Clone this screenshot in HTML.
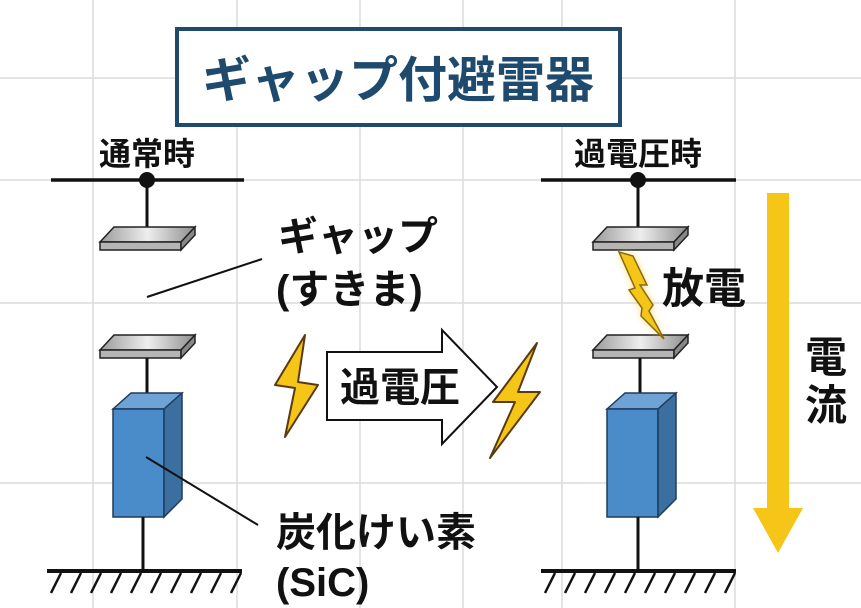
<!DOCTYPE html>
<html><head><meta charset="utf-8"><style>
body{margin:0;background:#fff}
svg{display:block}
text{font-family:"Liberation Sans","Noto Sans CJK JP",sans-serif;}
</style></head><body>
<svg width="861" height="608" viewBox="0 0 861 608" xmlns="http://www.w3.org/2000/svg">
<defs>
<linearGradient id="pl" x1="0" y1="0" x2="1" y2="0"><stop offset="0" stop-color="#9a9a9a"/><stop offset="0.5" stop-color="#eeeeee"/><stop offset="1" stop-color="#8e8e8e"/></linearGradient>
<filter id="glow"><feGaussianBlur stdDeviation="4"/></filter>
<g id="plate">
<polygon points="0,15 14,0 95,0 81,15" fill="url(#pl)" stroke="#222" stroke-width="1.5"/>
<polygon points="0,15 81,15 81,23 0,23" fill="#b5b5b5" stroke="#222" stroke-width="1.5"/>
<polygon points="81,15 95,0 95,8 81,23" fill="#888" stroke="#222" stroke-width="1.5"/>
</g>
<g id="sic">
<polygon points="0,16 18,0 69,0 51,16" fill="#6fa3d6" stroke="#1f3c5c" stroke-width="1.5"/>
<rect x="0" y="16" width="51" height="108" fill="#4a8bc9" stroke="#1f3c5c" stroke-width="1.5"/>
<polygon points="51,16 69,0 69,106 51,124" fill="#3b6f9f" stroke="#1f3c5c" stroke-width="1.5"/>
</g>
<g id="ground">
<line x1="0" y1="0" x2="195" y2="0" stroke="#111" stroke-width="4"/>
<path d="M14,2 l-10,20 M34,2 l-10,20 M54,2 l-10,20 M74,2 l-10,20 M94,2 l-10,20 M114,2 l-10,20 M134,2 l-10,20 M154,2 l-10,20 M174,2 l-10,20 M194,2 l-10,20" stroke="#111" stroke-width="2.5"/>
</g>
</defs>
<g stroke="#dcdcdc" stroke-width="1.5">
<line x1="93" y1="0" x2="93" y2="608"/><line x1="237" y1="0" x2="237" y2="608"/><line x1="360" y1="0" x2="360" y2="608"/><line x1="463" y1="0" x2="463" y2="608"/><line x1="562" y1="0" x2="562" y2="608"/><line x1="735" y1="0" x2="735" y2="608"/>
<line x1="0" y1="78" x2="861" y2="78"/><line x1="0" y1="180" x2="861" y2="180"/><line x1="0" y1="303" x2="861" y2="303"/><line x1="0" y1="483" x2="861" y2="483"/>
</g>
<rect x="177" y="29" width="443" height="96" fill="#fff" stroke="#1e4a6e" stroke-width="4"/>
<text x="398" y="97" font-size="49" font-weight="bold" fill="#1e4a6e" text-anchor="middle">ギャップ付避雷器</text>

<!-- left -->
<text x="147" y="165" font-size="32" font-weight="bold" fill="#111" text-anchor="middle">通常時</text>
<line x1="51" y1="180" x2="244" y2="180" stroke="#111" stroke-width="3.5"/>
<circle cx="147" cy="180" r="8" fill="#111"/>
<line x1="147" y1="180" x2="147" y2="228" stroke="#111" stroke-width="3"/>
<use href="#plate" x="100" y="227"/>
<use href="#plate" x="100" y="335"/>
<line x1="147" y1="358" x2="147" y2="400" stroke="#111" stroke-width="3"/>
<use href="#sic" x="113" y="393"/>
<line x1="143" y1="517" x2="143" y2="571" stroke="#111" stroke-width="3"/>
<use href="#ground" x="47" y="571"/>
<line x1="147" y1="297" x2="262" y2="259" stroke="#111" stroke-width="2"/>
<line x1="146" y1="457" x2="258" y2="525" stroke="#111" stroke-width="2"/>
<text x="278" y="250" font-size="40" font-weight="bold" fill="#111">ギャップ</text>
<text x="276" y="303" font-size="40" font-weight="bold" fill="#111">(すきま)</text>
<text x="276" y="546" font-size="40" font-weight="bold" fill="#111">炭化けい素</text>
<text x="276" y="596" font-size="40" font-weight="bold" fill="#111">(SiC)</text>

<!-- middle arrow -->
<polygon points="327,352 442,352 442,330 497,387 442,444 442,420 327,420" fill="#fff" stroke="#111" stroke-width="2"/>
<text x="400" y="401" font-size="40" font-weight="bold" fill="#111" text-anchor="middle">過電圧</text>
<polygon points="305,335 275,385 295,388 285,437 318,385 298,382" fill="#f5c518" stroke="#5a3a10" stroke-width="2" stroke-linejoin="round"/>
<polygon points="537,343 493,402 515,402 490,458 540,392 518,392" fill="#f5c518" stroke="#5a3a10" stroke-width="2" stroke-linejoin="round"/>

<!-- right -->
<text x="638" y="165" font-size="32" font-weight="bold" fill="#111" text-anchor="middle">過電圧時</text>
<line x1="541" y1="180" x2="736" y2="180" stroke="#111" stroke-width="3.5"/>
<circle cx="638" cy="180" r="8" fill="#111"/>
<line x1="638" y1="180" x2="638" y2="228" stroke="#111" stroke-width="3"/>
<use href="#plate" x="593" y="227"/>
<use href="#plate" x="593" y="335"/>
<line x1="640" y1="358" x2="640" y2="400" stroke="#111" stroke-width="3"/>
<use href="#sic" x="607" y="393"/>
<line x1="638" y1="517" x2="638" y2="571" stroke="#111" stroke-width="3"/>
<use href="#ground" x="541" y="571"/>
<polygon points="619,252 633,256 647,285 640,285 653,305 649,311 664,339 641,316 642,308 629,290 635,288" fill="#f8d54a" filter="url(#glow)" opacity="0.8"/>
<polygon points="619,252 633,256 647,285 640,285 653,305 649,311 664,339 641,316 642,308 629,290 635,288" fill="#f5c518" stroke="#8a6a10" stroke-width="1.5"/>
<text x="662" y="303" font-size="42" font-weight="bold" fill="#111">放電</text>
<rect x="767" y="193" width="22" height="318" fill="#f5c518"/>
<polygon points="753,508 803,508 778,553" fill="#f5c518"/>
<text x="826" y="372" font-size="42" font-weight="bold" fill="#111" text-anchor="middle">電</text>
<text x="826" y="420" font-size="42" font-weight="bold" fill="#111" text-anchor="middle">流</text>
</svg>
</body></html>
